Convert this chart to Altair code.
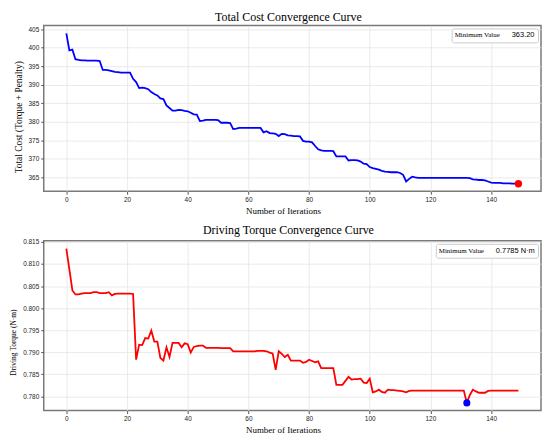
import altair as alt
import pandas as pd

iterations = list(range(150))

total_cost = [
    403.9, 399.3, 399.5, 396.9, 396.7, 396.6, 396.6, 396.5, 396.5, 396.5,
    396.5, 396.4, 394.0, 394.0, 393.9, 393.7, 393.5, 393.4, 393.3, 393.3,
    393.3, 393.3, 391.6, 390.7, 389.1, 389.2, 389.1, 388.8, 388.0, 387.5,
    387.1, 386.3, 386.1, 384.4, 383.7, 383.0, 383.0, 383.2, 383.1, 382.9,
    382.8, 382.4, 382.0, 381.9, 380.2, 380.3, 380.5, 380.5, 380.5, 380.5,
    380.4, 379.7, 379.7, 379.7, 379.6, 378.0, 378.1, 378.3, 378.3, 378.3,
    378.3, 378.3, 378.3, 378.3, 378.3, 377.1, 377.4, 376.9, 376.8, 376.7,
    376.1, 376.7, 376.6, 376.3, 376.2, 376.1, 376.1, 376.0, 374.8, 374.6,
    374.6, 374.4, 373.4, 372.5, 372.2, 372.1, 372.1, 372.1, 372.0, 370.6,
    370.6, 370.6, 370.6, 369.5, 369.6, 369.6, 369.5, 369.2, 368.6, 368.5,
    367.7, 367.4, 367.2, 367.0, 366.7, 366.5, 366.4, 366.3, 366.3, 366.3,
    366.1, 365.6, 363.8, 364.5, 365.1, 364.9, 364.8, 364.8, 364.8, 364.8,
    364.8, 364.8, 364.8, 364.8, 364.8, 364.8, 364.8, 364.8, 364.8, 364.8,
    364.8, 364.8, 364.8, 364.7, 364.4, 364.3, 364.2, 364.2, 364.1, 363.8,
    363.5, 363.4, 363.4, 363.4, 363.3, 363.3, 363.3, 363.2, 363.2, 363.2,
]

driving_torque = [
    0.8135, 0.8088, 0.8040, 0.8031, 0.8031, 0.8033, 0.8034, 0.8034, 0.8034, 0.8036,
    0.8036, 0.8034, 0.8034, 0.8034, 0.8036, 0.8029, 0.8032, 0.8033, 0.8033, 0.8033,
    0.8033, 0.8033, 0.8032, 0.7883, 0.7917, 0.7916, 0.7932, 0.7931, 0.7949, 0.7924,
    0.7924, 0.7887, 0.7881, 0.7911, 0.7889, 0.7921, 0.7921, 0.7921, 0.7911, 0.7920,
    0.7918, 0.7899, 0.7912, 0.7914, 0.7915, 0.7915, 0.7910, 0.7910, 0.7910, 0.7910,
    0.7910, 0.7909, 0.7909, 0.7909, 0.7909, 0.7902, 0.7902, 0.7902, 0.7902, 0.7902,
    0.7902, 0.7902, 0.7902, 0.7903, 0.7903, 0.7903, 0.7902, 0.7899, 0.7897, 0.7860,
    0.7902, 0.7896, 0.7889, 0.7894, 0.7881, 0.7881, 0.7881, 0.7881, 0.7876, 0.7878,
    0.7883, 0.7880, 0.7877, 0.7879, 0.7864, 0.7864, 0.7864, 0.7864, 0.7864, 0.7826,
    0.7826, 0.7826, 0.7835, 0.7844, 0.7838, 0.7839, 0.7839, 0.7840, 0.7831, 0.7830,
    0.7840, 0.7809, 0.7811, 0.7815, 0.7810, 0.7808, 0.7815, 0.7814, 0.7814, 0.7813,
    0.7812, 0.7811, 0.7809, 0.7812, 0.7813, 0.7813, 0.7813, 0.7813, 0.7813, 0.7813,
    0.7813, 0.7813, 0.7813, 0.7813, 0.7813, 0.7813, 0.7813, 0.7813, 0.7813, 0.7813,
    0.7813, 0.7813, 0.7785, 0.7803, 0.7815, 0.7811, 0.7808, 0.7808, 0.7808, 0.7812,
    0.7813, 0.7813, 0.7813, 0.7813, 0.7813, 0.7813, 0.7813, 0.7813, 0.7813, 0.7813,
]

cost_min_iter = [149]
cost_min_value = [363.20]
cost_min_label = ["363.20"]
torque_min_iter = [132]
torque_min_value = [0.7785]
torque_min_label = ["0.7785 N·m"]

x_ticks = [0, 20, 40, 60, 80, 100, 120, 140]
cost_ticks = [365, 370, 375, 380, 385, 390, 395, 400, 405]
torque_ticks = [0.780, 0.785, 0.790, 0.795, 0.800, 0.805, 0.810, 0.815]

SERIF = "Liberation Serif"
SANS = "Liberation Sans"


def x_axis():
    return alt.Axis(
        values=x_ticks, tickCount=30, title="Number of Iterations", titleFont=SERIF,
        titleFontSize=9, titleFontWeight="normal", titleColor="black",
        titlePadding=4, titleX=241, labelFont=SANS, labelFontSize=6.5,
        labelColor="#222222", labelPadding=2, labelOverlap=False,
        tickSize=3, tickColor="#555555",
        domain=False, gridColor="#e4e4e4", gridWidth=0.8,
    )


def y_axis(title, ticks, fmt, title_size, title_pad, title_y):
    return alt.Axis(
        values=ticks, tickCount=30, format=fmt, title=title, titleFont=SERIF,
        titleFontSize=title_size, titleFontWeight="normal", titleColor="black",
        titlePadding=title_pad, titleY=title_y, labelFont=SANS, labelFontSize=6.5,
        labelColor="#222222", labelPadding=2, labelOverlap=False,
        tickSize=3, tickColor="#555555",
        domain=False, gridColor="#e4e4e4", gridWidth=0.8,
    )


def min_legend():
    return alt.Legend(
        title="Minimum Value", orient="top-right", offset=3, titleOrient="left",
        titleFont=SERIF, titleFontSize=7, titleFontWeight="normal",
        titleColor="black", titlePadding=4, labelFont=SANS, labelFontSize=7.5,
        labelColor="black", symbolSize=0, symbolOpacity=0, symbolStrokeWidth=0,
        labelOffset=0, padding=3, fillColor="white", strokeColor="#cccccc",
        cornerRadius=2,
    )


x_scale = alt.Scale(domain=[-7.45, 156.45], nice=False, zero=False)

df_cost = pd.DataFrame({"iteration": iterations, "cost": total_cost})
df_cost_min = pd.DataFrame({"iteration": cost_min_iter, "cost": cost_min_value,
                            "label": cost_min_label})
df_torque = pd.DataFrame({"iteration": iterations, "torque": driving_torque})
df_torque_min = pd.DataFrame({"iteration": torque_min_iter, "torque": torque_min_value,
                              "label": torque_min_label})

line_cost = alt.Chart(df_cost).mark_line(color="#0000ff", strokeWidth=1.8).encode(
    x=alt.X("iteration:Q", scale=x_scale, axis=x_axis()),
    y=alt.Y("cost:Q", scale=alt.Scale(domain=[361.16, 406.04], nice=False, zero=False),
            axis=y_axis("Total Cost (Torque + Penalty)", cost_ticks, "d", 9.5, 5, 92)),
)
pt_cost = alt.Chart(df_cost_min).mark_circle(size=55, opacity=1).encode(
    x="iteration:Q", y="cost:Q",
    color=alt.Color("label:N", scale=alt.Scale(domain=cost_min_label, range=["#ff0000"]),
                    legend=min_legend()),
)
chart_cost = alt.layer(line_cost, pt_cost).properties(
    width=501, height=167,
    title=alt.TitleParams("Total Cost Convergence Curve", font=SERIF, fontSize=12,
                          fontWeight="normal", color="black", offset=2, dx=-4),
)

line_torque = alt.Chart(df_torque).mark_line(color="#ff0000", strokeWidth=1.8).encode(
    x=alt.X("iteration:Q", scale=x_scale, axis=x_axis()),
    y=alt.Y("torque:Q", scale=alt.Scale(domain=[0.77675, 0.81525], nice=False, zero=False),
            axis=y_axis("Driving Torque (N·m)", torque_ticks, ".3f", 7.5, 5, 102)),
)
pt_torque = alt.Chart(df_torque_min).mark_circle(size=50, opacity=1).encode(
    x="iteration:Q", y="torque:Q",
    color=alt.Color("label:N", scale=alt.Scale(domain=torque_min_label, range=["#0000ff"]),
                    legend=min_legend()),
)
chart_torque = alt.layer(line_torque, pt_torque).properties(
    width=501, height=171,
    title=alt.TitleParams("Driving Torque Convergence Curve", font=SERIF, fontSize=12,
                          fontWeight="normal", color="black", offset=2, dx=-4),
)

chart = alt.vconcat(chart_cost, chart_torque, spacing=6).resolve_scale(
    color="independent"
).properties(padding=0).configure_view(stroke="#7a7a7a", strokeWidth=1.5)

chart.save("out.html", embed_options={"renderer": "svg", "actions": False})
